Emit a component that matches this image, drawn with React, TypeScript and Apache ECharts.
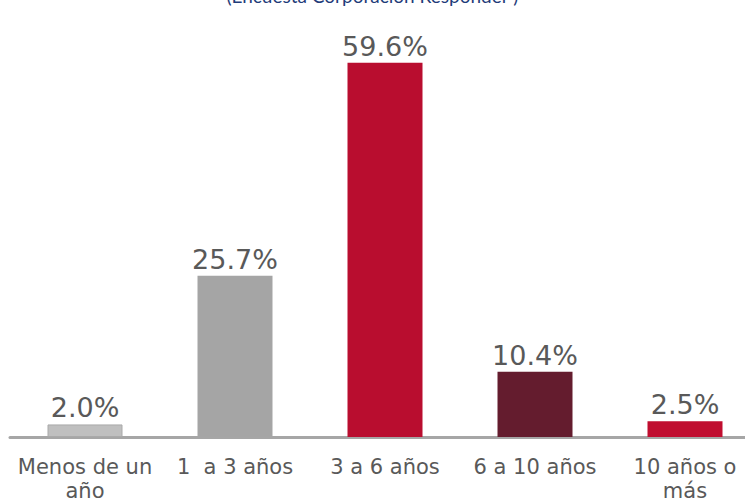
import React, { useEffect, useRef } from "react";
import * as echarts from "echarts";

const categories = ["Menos de un\naño", "1  a 3 años", "3 a 6 años", "6 a 10 años", "10 años o\nmás"];
const values = [2.0, 25.7, 59.6, 10.4, 2.5];
const barColors = ["#bfbfbf", "#a5a5a5", "#b90d2f", "#641c2e", "#c00d2f"];
const subtitle = "(Encuesta Corporación Responder )";

export default function App() {
  const ref = useRef<HTMLDivElement>(null);
  useEffect(() => {
    const chart = echarts.init(ref.current!, undefined, { renderer: "svg" });
    chart.setOption({
      animation: false,
      graphic: [
        {
          type: "text",
          left: "center",
          top: -14,
          style: { text: subtitle, fill: "#1f3c7a", fontSize: 19, fontFamily: "Lato, 'Open Sans', sans-serif" },
        },
      ],
      grid: { left: 10, width: 750, top: 0, height: 437, containLabel: false, outerBoundsMode: "none" },
      xAxis: {
        type: "category",
        data: categories,
        axisLine: { lineStyle: { color: "#a6a6a6", width: 3 } },
        axisTick: { show: false },
        axisLabel: {
          color: "#595959",
          fontSize: 21,
          fontFamily: "'DejaVu Sans', sans-serif",
          margin: 18,
          lineHeight: 24,
          interval: 0,
        },
      },
      yAxis: {
        type: "value",
        min: 0,
        max: 69.6,
        show: false,
        splitLine: { show: false },
      },
      series: [
        {
          type: "bar",
          barWidth: 75,
          data: values.map((v, i) => ({
            value: v,
            itemStyle: {
              color: barColors[i],
              borderColor: i === 0 ? "#a9a9a9" : undefined,
              borderWidth: i === 0 ? 1 : 0,
            },
          })),
          label: {
            show: true,
            position: "top",
            distance: 3,
            formatter: (p: any) => p.value.toFixed(1) + "%",
            color: "#595959",
            fontSize: 27,
            fontFamily: "'DejaVu Sans', sans-serif",
          },
        },
      ],
    });
    return () => chart.dispose();
  }, []);
  return <div ref={ref} style={{ width: 745, height: 502, position: "absolute", left: 0, top: 0 }} />;
}
